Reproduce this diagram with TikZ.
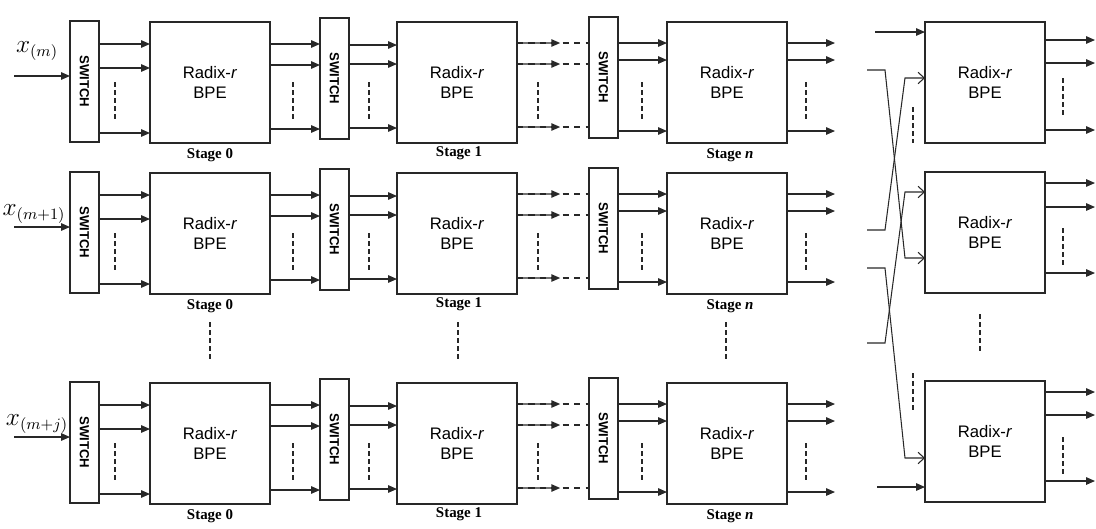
\documentclass[tikz,border=0pt]{standalone}
\usepackage{fontspec}
\setmainfont{Liberation Serif}
\setsansfont{Liberation Sans}
\usetikzlibrary{positioning,arrows.meta,calc}
\definecolor{trazo}{RGB}{40,40,40}

\tikzset{
  bpe/.style={draw=trazo, line width=0.7pt, minimum width=2.4cm, minimum height=2.42cm,
    inner sep=0pt, outer sep=0pt, anchor=north west, align=center,
    font=\sffamily\fontsize{9.5}{11.5}\selectfont},
  swbox/.style={draw=trazo, line width=0.7pt, minimum width=0.58cm, minimum height=2.42cm,
    inner sep=0pt, outer sep=0pt, anchor=north west},
  swtext/.style={rotate=-90, inner sep=0pt, font=\sffamily\bfseries\fontsize{7.5}{9}\selectfont},
  sig/.style={trazo, line width=0.7pt, -{Triangle[length=5pt,width=4.2pt]}},
  cruce/.style={trazo, line width=0.6pt, -{Straight Barb[length=3.5pt,width=6.5pt]}},
  puntos/.style={trazo, line width=0.6pt, dash pattern=on 2.6pt off 2pt},
  tramo/.style={trazo, line width=0.7pt, dash pattern=on 3.5pt off 3pt},
  etapa/.style={inner sep=1pt, font=\bfseries\fontsize{8.5}{10}\selectfont},
}

\begin{document}
\begin{tikzpicture}[x=0.02cm, y=-0.02cm]
  \useasboundingbox (0,0) rectangle (1096,528);
  \coordinate (fin) at (1095,0);
  \coordinate (finC) at (835,0);
  % three pipelines
  \foreach \r/\T/\lab/\ly/\lx in {1/22/{m}/29/37, 2/173/{m+1}/41/34, 3/383/{m+j}/41/37}{
    \node[swbox] (swa\r) at (70,\T-1) {};
    \node[swtext] (swat\r) at (swa\r.center) {SWITCH};
    \node[bpe] (bpeA\r) at (150,\T) {Radix-\textit{r}\\BPE};
    \node[swbox] (swb\r) at (320,\T-4) {};
    \node[swtext] (swbt\r) at (swb\r.center) {SWITCH};
    \node[bpe] (bpeB\r) at (397,\T) {Radix-\textit{r}\\BPE};
    \node[swbox] (swc\r) at (589,\T-5) {};
    \node[swtext] (swct\r) at (swc\r.center) {SWITCH};
    \node[bpe] (bpeC\r) at (667,\T) {Radix-\textit{r}\\BPE};
    \node[etapa] (stA\r) at (210,\T+133) {Stage 0};
    \node[etapa] (stB\r) at (459,\T+131) {Stage 1};
    \node[etapa] (stC\r) at (730,\T+133) {Stage \textit{n}};
    % input
    \coordinate (in\r) at (14,\T+54);
    \node[font=\fontsize{13.5}{15}\selectfont] (lab\r) at (\lx,\T+\ly) {$x_{(\lab)}$};
    \draw[sig] (in\r) -- (swa\r.west |- in\r);
    % links
    \foreach \o in {22,46,111}
      \draw[sig] (swa\r.east |- 0,\T+\o) -- (bpeA\r.west |- 0,\T+\o);
    \foreach \o in {22,43,107}
      \draw[sig] (bpeA\r.east |- 0,\T+\o) -- (swb\r.west |- 0,\T+\o);
    \foreach \o in {23,42,106}
      \draw[sig] (swb\r.east |- 0,\T+\o) -- (bpeB\r.west |- 0,\T+\o);
    \foreach \o in {21,42,105}{
      \draw[tramo] (bpeB\r.east |- 0,\T+\o) -- (swc\r.west |- 0,\T+\o);
      \draw[sig] (bpeB\r.east |- 0,\T+\o) -- ($(bpeB\r.east |- 0,\T+\o)!0.6!(swc\r.west |- 0,\T+\o)$);
    }
    \foreach \o in {21,38,109}{
      \draw[sig] (swc\r.east |- 0,\T+\o) -- (bpeC\r.west |- 0,\T+\o);
      \draw[sig] (bpeC\r.east |- 0,\T+\o) -- (finC |- 0,\T+\o);
    }
    \foreach \x in {115,293,369,538,642,806}
      \draw[puntos] (\x,\T+60) -- (\x,\T+98);
  }
  \foreach \x in {210,458,726}
    \draw[puntos] (\x,322) -- (\x,360);

  % last stage
  \foreach \r/\T/\a/\b/\c in {1/22/40/63/130, 2/172/183/207/273, 3/381/392/415/481}{
    \node[bpe] (bpeR\r) at (925,\T) {Radix-\textit{r}\\BPE};
    \foreach \o in {\a,\b,\c}
      \draw[sig] (bpeR\r.east |- 0,\o) -- (fin |- 0,\o);
    \draw[puntos] (1063,\T+56) -- (1063,\T+94);
  }
  \draw[puntos] (980,314) -- (980,352);
  \coordinate (rin1) at (875,32);
  \coordinate (rin3) at (877,487);
  \draw[sig] (rin1) -- (bpeR1.west |- rin1);
  \draw[sig] (rin3) -- (bpeR3.west |- rin3);
  % crossing
  \coordinate (xa) at (867,70);
  \coordinate (xb) at (867,230);
  \coordinate (xc) at (867,268);
  \coordinate (xd) at (867,343);
  \draw[cruce] (xa) -- (885,70) -- (905,258) -- (bpeR2.west |- 0,258);
  \draw[cruce] (xb) -- (885,230) -- (905,78) -- (bpeR1.west |- 0,78);
  \draw[cruce] (xc) -- (885,268) -- (905,458) -- (bpeR3.west |- 0,458);
  \draw[cruce] (xd) -- (885,343) -- (905,192) -- (bpeR2.west |- 0,192);
  \draw[puntos] (913,107) -- (913,143);
  \draw[puntos] (913,373) -- (913,410);
\end{tikzpicture}
\end{document}
